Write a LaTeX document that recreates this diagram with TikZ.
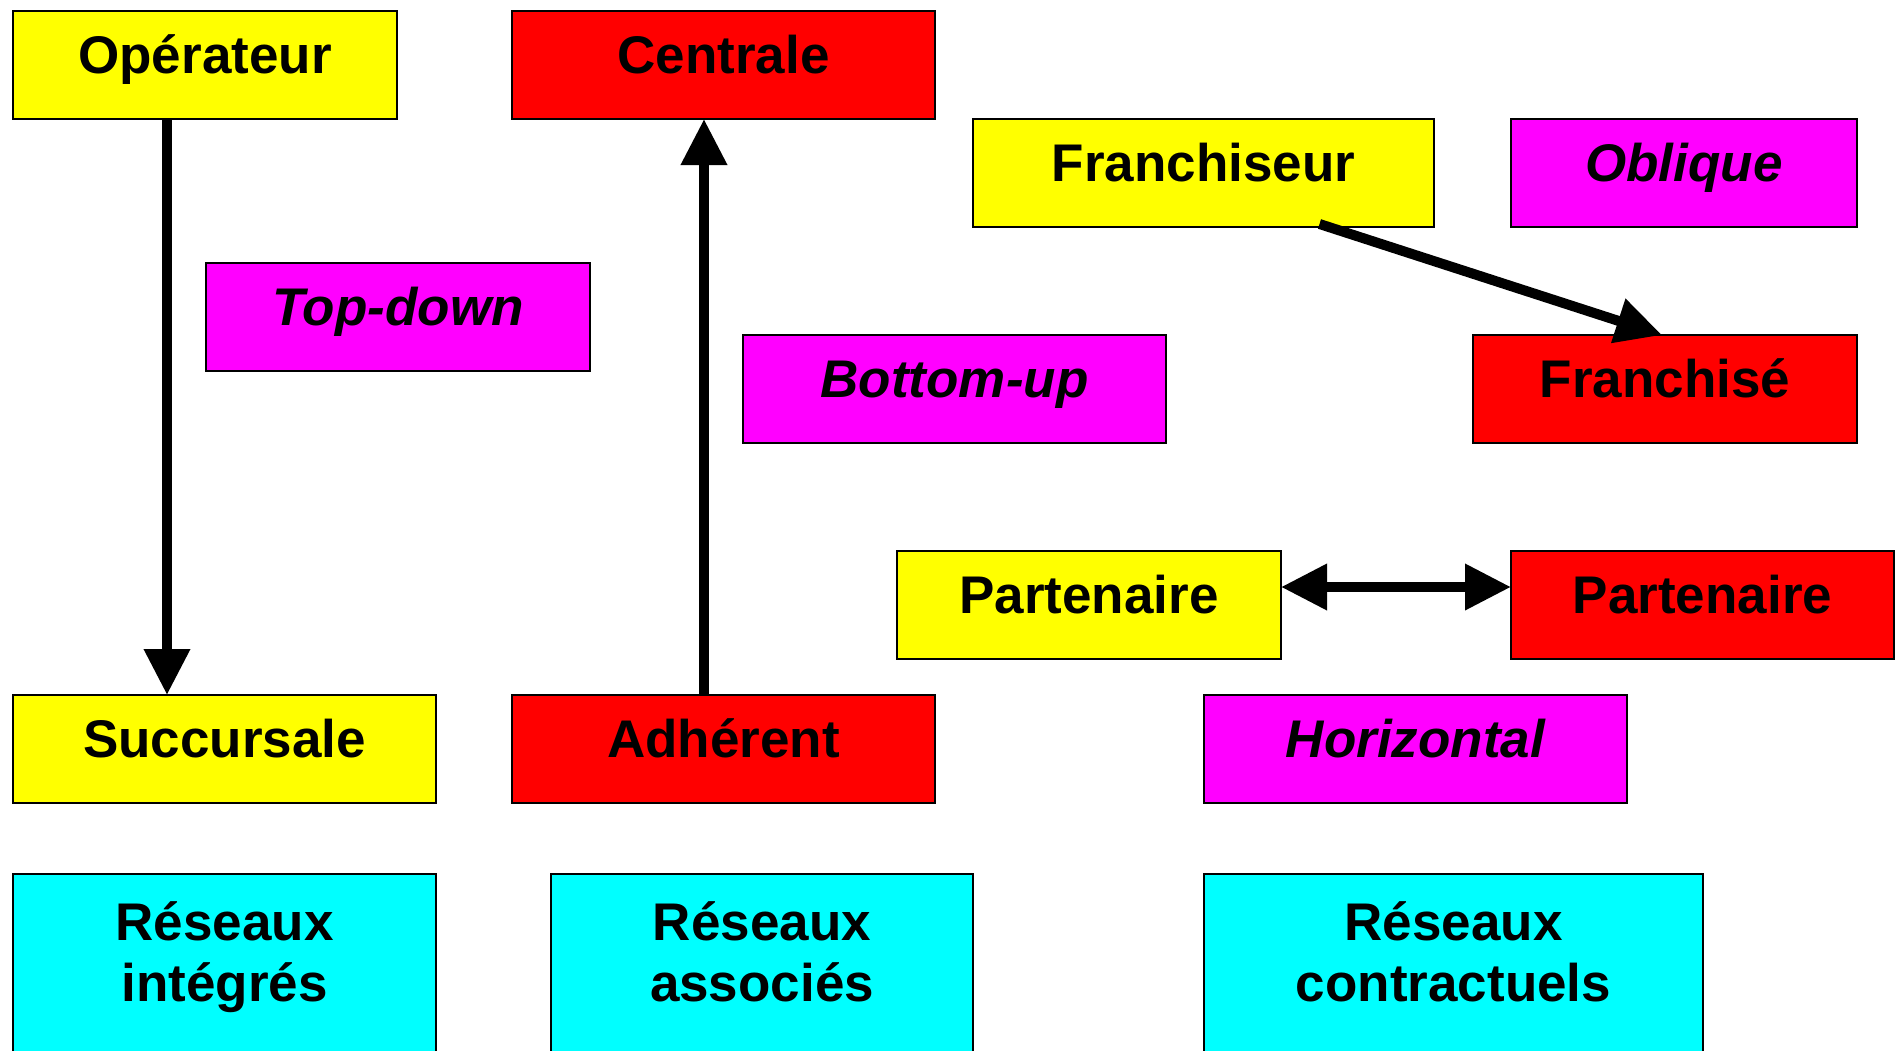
\documentclass[tikz,border=0pt]{standalone}
\usepackage{fontspec}
\setmainfont{Liberation Sans}
\usetikzlibrary{arrows.meta,calc}
\definecolor{yel}{HTML}{FFFF00}
\definecolor{rd}{HTML}{FF0000}
\definecolor{mag}{HTML}{FF00FF}
\definecolor{cya}{HTML}{00FFFF}
\begin{document}
\begin{tikzpicture}[x=1pt,y=-1pt,
  box/.style={draw=black,line width=2.5pt,inner sep=0pt,outer sep=0pt,anchor=north west,
    text height=62pt,text depth=46pt,minimum height=108pt,
    font=\fontsize{53}{61}\selectfont\bfseries},
  ibox/.style={box,font=\fontsize{53}{61}\selectfont\bfseries\itshape},
  cbox/.style={draw=black,line width=2.5pt,inner sep=0pt,outer sep=0pt,anchor=north west,
    minimum height=260pt,fill=cya},
  lbl/.style={inner sep=0pt,anchor=base,font=\fontsize{53}{61}\selectfont\bfseries},
  arr/.style={line width=10pt,-{Triangle[length=46pt,width=44pt]}},
  darr/.style={line width=10pt,{Triangle[length=46pt,width=44pt]}-{Triangle[length=46pt,width=44pt]}}
]
\useasboundingbox (0,0) rectangle (1898,1050);
\clip (0,0) rectangle (1898,1050);
\fill[white] (0,0) rectangle (1898,1050);

\node[box,fill=yel,minimum width=384pt] (op) at (13,11) {Opérateur};
\node[box,fill=rd,minimum width=423pt] (cen) at (512,11) {Centrale};
\node[box,fill=yel,minimum width=461pt] (frs) at (973,119) {Franchiseur};
\node[ibox,fill=mag,minimum width=346pt] (obl) at (1511,119) {Oblique};
\node[ibox,fill=mag,minimum width=384pt] (td) at (206,263) {Top-down};
\node[ibox,fill=mag,minimum width=423pt] (bu) at (743,335) {Bottom-up};
\node[box,fill=rd,minimum width=384pt] (fre) at (1473,335) {Franchisé};
\node[box,fill=yel,minimum width=384pt] (py) at (897,551) {Partenaire};
\node[box,fill=rd,minimum width=383pt] (pr) at (1511,551) {Partenaire};
\node[box,fill=yel,minimum width=423pt] (suc) at (13,695) {Succursale};
\node[box,fill=rd,minimum width=423pt] (adh) at (512,695) {Adhérent};
\node[ibox,fill=mag,minimum width=423pt] (hor) at (1204,695) {Horizontal};

\node[cbox,minimum width=423pt] (ri) at (13,874) {};
\node[lbl] (ri1) at ($(ri.north)+(0,66)$) {Réseaux};
\node[lbl] (ri2) at ($(ri.north)+(0,127)$) {intégrés};
\node[cbox,minimum width=422pt] (ra) at (551,874) {};
\node[lbl] (ra1) at ($(ra.north)+(0,66)$) {Réseaux};
\node[lbl] (ra2) at ($(ra.north)+(0,127)$) {associés};
\node[cbox,minimum width=499pt] (rc) at (1204,874) {};
\node[lbl] (rc1) at ($(rc.north)+(0,66)$) {Réseaux};
\node[lbl] (rc2) at ($(rc.north)+(0,127)$) {contractuels};

\coordinate (a1) at (167,0);
\coordinate (a2) at (704,0);
\draw[arr] (op.south -| a1) -- (suc.north -| a1);
\draw[arr] (adh.north -| a2) -- (cen.south -| a2);
\draw[arr] ([xshift=116pt,yshift=3pt]frs.south) -- ([xshift=-3pt]fre.north);
\draw[darr] ([yshift=18pt]py.east) -- ([yshift=18pt]pr.west);
\end{tikzpicture}
\end{document}
